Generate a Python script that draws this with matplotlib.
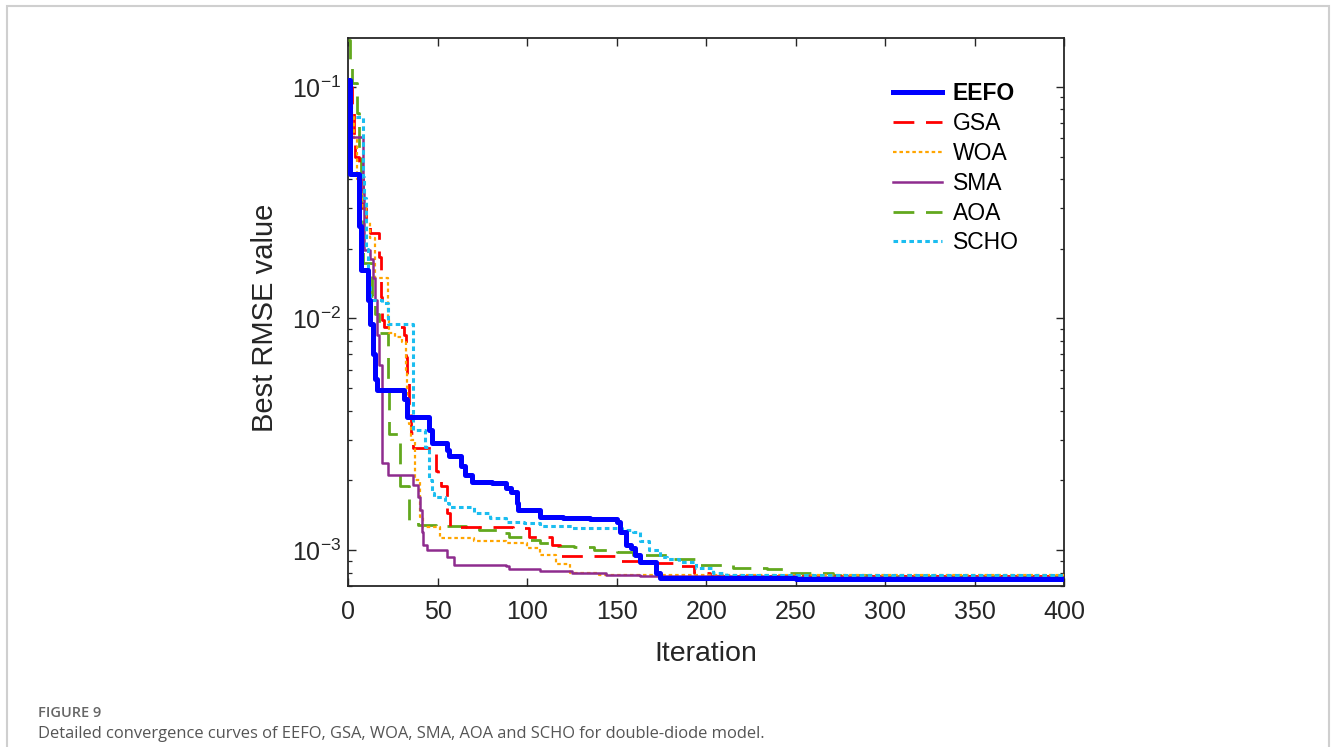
import matplotlib
matplotlib.use("Agg")
import matplotlib.pyplot as plt
from matplotlib.patches import Rectangle
from matplotlib.ticker import LogLocator, NullFormatter, LogFormatterSciNotation

plt.rcParams['font.family'] = ['Liberation Sans', 'DejaVu Sans']
plt.rcParams['mathtext.fontset'] = 'custom'
plt.rcParams['mathtext.rm'] = 'Liberation Sans'
plt.rcParams['mathtext.it'] = 'Liberation Sans:italic'
plt.rcParams['mathtext.bf'] = 'Liberation Sans:bold'

# Best-so-far RMSE per algorithm (iteration breakpoints, value held until next breakpoint)
eefo_it = [0, 1, 6, 7, 11, 12, 14, 15, 16, 31, 33, 45, 47, 55, 56, 63, 65, 69, 80, 88, 91, 94,
           95, 107, 120, 135, 150, 152, 155, 158, 160, 163, 172, 174, 250, 400]
eefo_val = [0.107, 0.042, 0.025, 0.0162, 0.012, 0.0095, 0.007, 0.0055, 0.0049, 0.0045, 0.00375,
            0.0033, 0.0029, 0.0027, 0.00255, 0.0023, 0.0021, 0.00197, 0.00195, 0.00185, 0.00178,
            0.0016, 0.00149, 0.00139, 0.00138, 0.00136, 0.00132, 0.0012, 0.00105, 0.00102, 0.00095,
            0.00089, 0.0008, 0.000757, 0.00075, 0.000748]

gsa_it = [0, 2, 3, 4, 6, 8, 10, 12, 17, 18, 19, 20, 31, 32, 33, 34, 35, 36, 49, 50, 52, 55, 57,
          92, 101, 114, 118, 150, 165, 185, 193, 202, 400]
gsa_val = [0.1, 0.08, 0.06, 0.05, 0.04, 0.03, 0.026, 0.0234, 0.0184, 0.0124, 0.0099, 0.0092,
           0.0085, 0.0068, 0.0054, 0.0042, 0.0032, 0.00276, 0.0022, 0.00211, 0.0019, 0.00145,
           0.00126, 0.00124, 0.00114, 0.00105, 0.00094, 0.0009, 0.00088, 0.00085, 0.0008,
           0.00077, 0.00077]

woa_it = [0, 2, 3, 5, 8, 10, 12, 15, 22, 23, 26, 30, 32, 33, 34, 35, 37, 40, 42, 51, 70, 88,
          100, 107, 116, 124, 140, 400]
woa_val = [0.085, 0.074, 0.06, 0.04, 0.03, 0.026, 0.0223, 0.0149, 0.0099, 0.0087, 0.0083,
           0.0079, 0.006, 0.0045, 0.0035, 0.003, 0.002, 0.00139, 0.00126, 0.00113, 0.0011,
           0.00107, 0.00102, 0.00095, 0.00087, 0.0008, 0.00078, 0.000772]

sma_it = [0, 1, 8, 9, 12, 14, 15, 16, 17, 19, 22, 36, 39, 40, 41, 42, 44, 55, 59, 88, 90, 107,
          125, 144, 163, 250, 400]
sma_val = [0.075, 0.061, 0.035, 0.0197, 0.018, 0.015, 0.012, 0.0085, 0.0063, 0.00238, 0.0021,
           0.00191, 0.00169, 0.00149, 0.0012, 0.00105, 0.001, 0.00093, 0.00086, 0.00085, 0.00083,
           0.00081, 0.0008, 0.00078, 0.000773, 0.000766, 0.000762]

aoa_it = [0, 1, 2, 5, 6, 7, 8, 13, 15, 17, 22, 23, 29, 34, 39, 49, 66, 73, 83, 90, 100, 107,
          114, 126, 137, 150, 159, 178, 196, 215, 234, 243, 271, 290, 400]
aoa_val = [0.16, 0.125, 0.104, 0.077, 0.05, 0.03, 0.0174, 0.0125, 0.0105, 0.0087, 0.0055,
           0.00318, 0.0019, 0.00135, 0.00128, 0.00127, 0.00126, 0.00122, 0.00118, 0.00114,
           0.00111, 0.00107, 0.00104, 0.00103, 0.001, 0.00098, 0.00095, 0.00092, 0.00086,
           0.00084, 0.00083, 0.0008, 0.00078, 0.00077, 0.000768]

scho_it = [0, 8, 9, 10, 11, 12, 19, 22, 36, 43, 45, 47, 48, 54, 56, 70, 79, 88, 98, 107, 125,
           153, 159, 163, 168, 174, 178, 185, 194, 204, 211, 400]
scho_val = [0.074, 0.041, 0.033, 0.02, 0.0137, 0.012, 0.0117, 0.0095, 0.0033, 0.0028, 0.002,
            0.00177, 0.0017, 0.0016, 0.00153, 0.00145, 0.00138, 0.00132, 0.00131, 0.00127,
            0.00124, 0.00122, 0.0012, 0.0011, 0.001, 0.00093, 0.00092, 0.00089, 0.00084, 0.0008,
            0.00078, 0.000765]

x_ticks = [0, 50, 100, 150, 200, 250, 300, 350, 400]

fig = plt.figure(figsize=(13.32, 7.47), dpi=100)

# light panel frame
fig.add_artist(Rectangle((7 / 1332, -0.05), (1329 - 7) / 1332, 1.05 - 5.5 / 747,
                         transform=fig.transFigure, fill=False, edgecolor='#cfcfcf', lw=1.5))

ax = fig.add_axes([0.2615, 0.2155, 0.5375, 0.7332])

ax.plot(aoa_it, aoa_val, drawstyle='steps-post', color='#62A81E', lw=2.0,
        dashes=(7.5, 4.2), label='AOA', zorder=3)
ax.plot(gsa_it, gsa_val, drawstyle='steps-post', color='#FF0000', lw=2.0,
        dashes=(7.5, 4.2), label='GSA', zorder=3)
ax.plot(woa_it, woa_val, drawstyle='steps-post', color='#FFA500', lw=1.6,
        dashes=(1.6, 1.3), label='WOA', zorder=3)
ax.plot(sma_it, sma_val, drawstyle='steps-post', color='#8E2C8E', lw=1.8,
        label='SMA', zorder=3)
ax.plot(scho_it, scho_val, drawstyle='steps-post', color='#1BBDF0', lw=2.2,
        dashes=(1.5, 1.1), label='SCHO', zorder=3)
ax.plot(eefo_it, eefo_val, drawstyle='steps-post', color='#0000FF', lw=3.6,
        label='EEFO', zorder=4)

ax.set_yscale('log')
ax.set_xlim(0, 400)
ax.set_ylim(7.0e-4, 0.162)
ax.set_xticks(x_ticks)
ax.yaxis.set_major_locator(LogLocator(base=10))
ax.yaxis.set_major_formatter(LogFormatterSciNotation())
ax.yaxis.set_minor_locator(LogLocator(base=10, subs=range(2, 10)))
ax.yaxis.set_minor_formatter(NullFormatter())

ax.tick_params(axis='both', which='both', direction='in', top=True, right=True,
               colors='#262626', labelcolor='#262626', labelsize=18)
ax.tick_params(axis='both', which='major', length=5.5, width=1.0)
ax.tick_params(axis='y', which='minor', length=3.0, width=0.9)
ax.tick_params(axis='x', which='major', pad=10)
ax.tick_params(axis='y', which='major', pad=5)
for sp in ax.spines.values():
    sp.set_color('#262626')
    sp.set_linewidth(1.3)

fig.text(706 / 1332, 1 - 661 / 747, 'Iteration', ha='center', va='baseline',
         fontsize=20.5, color='#262626')
fig.text(265 / 1332, 1 - 318 / 747, 'Best RMSE value', ha='center', va='center',
         rotation=90, fontsize=21, color='#262626')

handles, labels = ax.get_legend_handles_labels()
order = ['EEFO', 'GSA', 'WOA', 'SMA', 'AOA', 'SCHO']
hmap = dict(zip(labels, handles))
leg = ax.legend([hmap[k] for k in order], order, loc='upper left',
                bbox_to_anchor=(0.7607, 0.9202), frameon=False, fontsize=16.5,
                handlelength=2.15, handletextpad=0.45, labelspacing=0.3,
                borderpad=0, borderaxespad=0)
leg.get_texts()[0].set_fontweight('bold')

fig.text(38 / 1332, 1 - 713 / 747, 'FIGURE 9', ha='left', va='center',
         fontsize=10.5, color='#666666', family=['Open Sans', 'DejaVu Sans'], fontweight='semibold')
fig.text(38 / 1332, 1 - 734 / 747,
         'Detailed convergence curves of EEFO, GSA, WOA, SMA, AOA and SCHO for double-diode model.',
         ha='left', va='center', fontsize=11.9, color='#555555', family=['Open Sans', 'DejaVu Sans'])

fig.savefig('out.png', dpi=100)
